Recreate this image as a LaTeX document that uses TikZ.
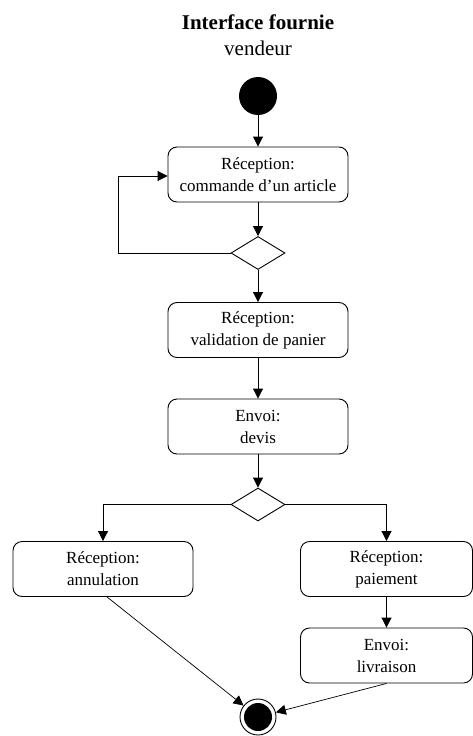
\documentclass[tikz,border=0pt]{standalone}
\usepackage{fontspec}
\setmainfont{Liberation Serif}
\usetikzlibrary{arrows.meta,shapes.geometric}
\begin{document}
\begin{tikzpicture}[x=1pt,y=-1pt,
  line width=0.9pt,
  >={Triangle[length=10pt,width=10pt]},
  action/.style={draw,rounded corners=9pt,minimum width=180pt,minimum height=55pt,
    align=center,font=\fontsize{17}{22}\selectfont,inner sep=0pt},
  narrow/.style={action,minimum width=172pt},
  choice/.style={draw,diamond,minimum width=54pt,minimum height=33pt,inner sep=0pt,aspect=1.6},
  flow/.style={->}]
\useasboundingbox (0,0) rectangle (473,736);
\node[font=\bfseries\fontsize{21}{24}\selectfont] (title) at (258,22) {Interface fournie};
\node[font=\fontsize{21}{24}\selectfont] (role) at (258,48) {vendeur};

\node[circle,fill=black,minimum size=38pt,inner sep=0pt] (start) at (258,96) {};
\node[action] (cmd) at (258,174.5) {Réception:\\commande d’un article};
\node[choice] (d1) at (258,253) {};
\node[action] (valid) at (258,330) {Réception:\\validation de panier};
\node[action] (devis) at (258,426.5) {Envoi:\\devis};
\node[choice] (d2) at (258,504.5) {};
\node[action] (annul) at (103,569) {Réception:\\annulation};
\node[narrow] (paie) at (386.5,569) {Réception:\\paiement};
\node[narrow] (livr) at (386.5,655.5) {Envoi:\\livraison};
\node[circle,draw,line width=0.9pt,minimum size=36pt,inner sep=0pt] (stop) at (258,717) {};
\node[circle,fill=black,minimum size=28pt,inner sep=0pt] (stopin) at (258,717) {};

\coordinate (loopa) at (118,253);
\coordinate (loopb) at (118,176);
\coordinate (left) at (103,504.5);
\coordinate (right) at (386.5,504.5);

\draw[flow] (start) -- (cmd);
\draw[flow] (cmd) -- (d1);
\draw[flow] (d1.west) -- (loopa) -- (loopb) -- (cmd.west |- loopb);
\draw[flow] (d1) -- (valid);
\draw[flow] (valid) -- (devis);
\draw[flow] (devis) -- (d2);
\draw[flow] (d2.west) -- (left) -- (annul);
\draw[flow] (d2.east) -- (right) -- (paie);
\draw[flow] (paie) -- (livr);
\draw[flow,line width=0.7pt] (annul.south) ++(4,0) coordinate (a1) -- (stop);
\draw[flow,line width=0.7pt] (livr.south) -- (stop);
\end{tikzpicture}
\end{document}
